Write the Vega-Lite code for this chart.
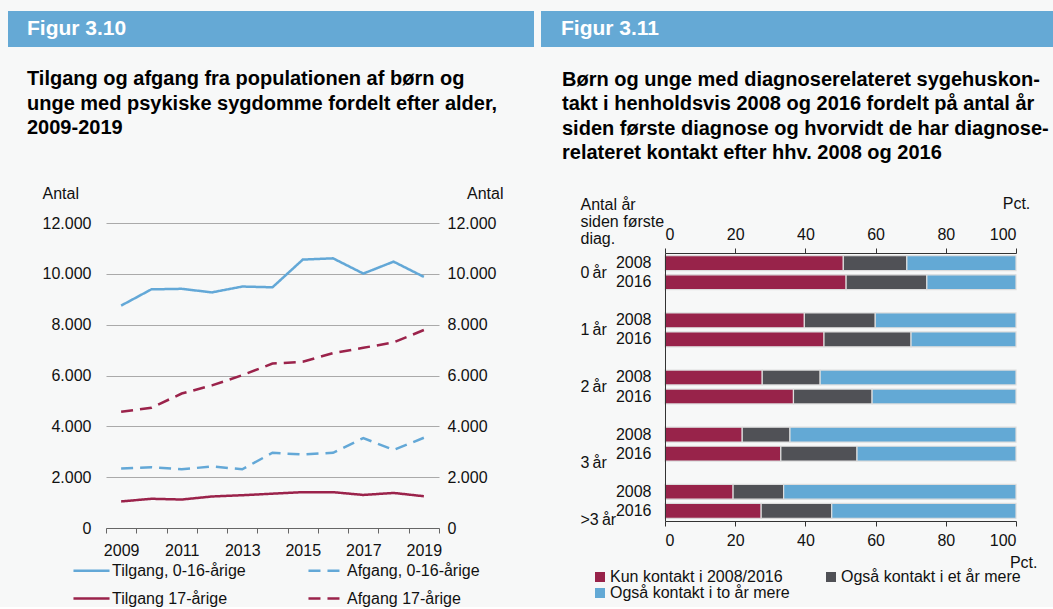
{
  "$schema": "https://vega.github.io/schema/vega-lite/v6.json",
  "background": "#f7f8f8",
  "padding": {"left": 8, "top": 11, "right": 0, "bottom": 0},
  "config": {
    "font": "Liberation Sans",
    "view": {"stroke": null},
    "axis": {"labelFontSize": 16, "labelColor": "#111111", "titleFontSize": 16, "titleFontWeight": "normal", "titleColor": "#111111"},
    "legend": {"labelFontSize": 16, "labelColor": "#111111"},
    "title": {"color": "#000000"}
  },
  "spacing": 7,
  "resolve": {"scale": {"color": "independent", "strokeDash": "independent"}, "legend": {"color": "independent", "strokeDash": "independent"}},
  "hconcat": [
    {
      "columns": 3,
      "bounds": "flush",
      "align": "each",
      "spacing": {"row": 176, "column": 0},
      "resolve": {"scale": {"color": "independent", "strokeDash": "independent"}, "legend": {"color": "independent", "strokeDash": "independent"}},
      "concat": [
        {"width": 98, "height": 36, "data": {"values": [{"del": "a"}]}, "mark": {"type": "rect", "color": "#65a9d5"}},
        {
          "width": 333, "height": 36,
          "data": {"values": [{"figur": "Figur 3.10"}]},
          "layer": [
            {"mark": {"type": "rect", "color": "#65a9d5"}},
            {"mark": {"type": "text", "align": "left", "baseline": "middle", "dx": -245.5, "color": "#ffffff", "fontSize": 21, "fontWeight": "bold"}, "encoding": {"text": {"field": "figur"}}}
          ]
        },
        {"width": 95, "height": 36, "data": {"values": [{"del": "c"}]}, "mark": {"type": "rect", "color": "#65a9d5"}},
        {"width": 98, "height": 1, "data": {"values": []}, "mark": "rect"},
        {
          "width": 333, "height": 305,
          "title": {"text": ["Tilgang og afgang fra populationen af børn og", "unge med psykiske sygdomme fordelt efter alder,", "2009-2019"], "anchor": "start", "frame": "group", "dx": -79, "offset": 47, "fontSize": 20, "fontWeight": "bold", "lineHeight": 24.5},
          "data": {"values": [
            {"aar": 2009, "serie": "Tilgang, 0-16-årige", "antal": 8750},
            {"aar": 2010, "serie": "Tilgang, 0-16-årige", "antal": 9390},
            {"aar": 2011, "serie": "Tilgang, 0-16-årige", "antal": 9410},
            {"aar": 2012, "serie": "Tilgang, 0-16-årige", "antal": 9270},
            {"aar": 2013, "serie": "Tilgang, 0-16-årige", "antal": 9500},
            {"aar": 2014, "serie": "Tilgang, 0-16-årige", "antal": 9470},
            {"aar": 2015, "serie": "Tilgang, 0-16-årige", "antal": 10560},
            {"aar": 2016, "serie": "Tilgang, 0-16-årige", "antal": 10610},
            {"aar": 2017, "serie": "Tilgang, 0-16-årige", "antal": 10010},
            {"aar": 2018, "serie": "Tilgang, 0-16-årige", "antal": 10480},
            {"aar": 2019, "serie": "Tilgang, 0-16-årige", "antal": 9880},
            {"aar": 2009, "serie": "Afgang, 0-16-årige", "antal": 2340},
            {"aar": 2010, "serie": "Afgang, 0-16-årige", "antal": 2390},
            {"aar": 2011, "serie": "Afgang, 0-16-årige", "antal": 2310},
            {"aar": 2012, "serie": "Afgang, 0-16-årige", "antal": 2420},
            {"aar": 2013, "serie": "Afgang, 0-16-årige", "antal": 2310},
            {"aar": 2014, "serie": "Afgang, 0-16-årige", "antal": 2960},
            {"aar": 2015, "serie": "Afgang, 0-16-årige", "antal": 2890},
            {"aar": 2016, "serie": "Afgang, 0-16-årige", "antal": 2960},
            {"aar": 2017, "serie": "Afgang, 0-16-årige", "antal": 3540},
            {"aar": 2018, "serie": "Afgang, 0-16-årige", "antal": 3070},
            {"aar": 2019, "serie": "Afgang, 0-16-årige", "antal": 3550},
            {"aar": 2009, "serie": "Tilgang 17-årige", "antal": 1045},
            {"aar": 2010, "serie": "Tilgang 17-årige", "antal": 1150},
            {"aar": 2011, "serie": "Tilgang 17-årige", "antal": 1120},
            {"aar": 2012, "serie": "Tilgang 17-årige", "antal": 1240},
            {"aar": 2013, "serie": "Tilgang 17-årige", "antal": 1290},
            {"aar": 2014, "serie": "Tilgang 17-årige", "antal": 1350},
            {"aar": 2015, "serie": "Tilgang 17-årige", "antal": 1410},
            {"aar": 2016, "serie": "Tilgang 17-årige", "antal": 1410},
            {"aar": 2017, "serie": "Tilgang 17-årige", "antal": 1300},
            {"aar": 2018, "serie": "Tilgang 17-årige", "antal": 1380},
            {"aar": 2019, "serie": "Tilgang 17-årige", "antal": 1250},
            {"aar": 2009, "serie": "Afgang 17-årige", "antal": 4570},
            {"aar": 2010, "serie": "Afgang 17-årige", "antal": 4730},
            {"aar": 2011, "serie": "Afgang 17-årige", "antal": 5290},
            {"aar": 2012, "serie": "Afgang 17-årige", "antal": 5610},
            {"aar": 2013, "serie": "Afgang 17-årige", "antal": 6010},
            {"aar": 2014, "serie": "Afgang 17-årige", "antal": 6470},
            {"aar": 2015, "serie": "Afgang 17-årige", "antal": 6540},
            {"aar": 2016, "serie": "Afgang 17-årige", "antal": 6880},
            {"aar": 2017, "serie": "Afgang 17-årige", "antal": 7090},
            {"aar": 2018, "serie": "Afgang 17-årige", "antal": 7300},
            {"aar": 2019, "serie": "Afgang 17-årige", "antal": 7790}
          ]},
          "encoding": {
            "x": {"field": "aar", "type": "ordinal", "scale": {"type": "band", "paddingInner": 0, "paddingOuter": 0},
              "axis": {"title": null, "labelAngle": 0, "labelOverlap": false, "labelExpr": "datum.value % 2 == 1 ? datum.label : ''", "tickBand": "extent", "tickSize": 5, "tickColor": "#666666", "domainColor": "#666666", "labelPadding": 9, "grid": false}}
          },
          "layer": [
            {
              "mark": {"type": "line", "strokeWidth": 2.5},
              "encoding": {
                "y": {"field": "antal", "type": "quantitative", "scale": {"domain": [0, 12000]},
                  "axis": {"orient": "left", "values": [0, 2000, 4000, 6000, 8000, 10000, 12000], "labelExpr": "replace(format(datum.value, ','), ',', '.')", "grid": true, "gridColor": "#aaaaaa", "domain": false, "ticks": false, "labelPadding": 15, "title": "Antal", "titleAngle": 0, "titleAlign": "left", "titleBaseline": "middle", "titleX": -64, "titleY": -30}},
                "color": {"field": "serie", "type": "nominal",
                  "scale": {"domain": ["Tilgang, 0-16-årige", "Afgang, 0-16-årige", "Tilgang 17-årige", "Afgang 17-årige"], "range": ["#63a8d7", "#63a8d7", "#9b234b", "#9b234b"]},
                  "legend": {"orient": "none", "legendX": -34, "legendY": 328, "columns": 2, "direction": "horizontal", "title": null, "symbolType": "stroke", "symbolSize": 1300, "symbolStrokeWidth": 2.5, "labelOffset": 1, "columnPadding": 57, "rowPadding": -7, "labelLimit": 300}},
                "strokeDash": {"field": "serie", "type": "nominal",
                  "scale": {"domain": ["Tilgang, 0-16-årige", "Afgang, 0-16-årige", "Tilgang 17-årige", "Afgang 17-årige"], "range": [[1, 0], [12, 7], [1, 0], [12, 7]]},
                  "legend": {"orient": "none", "legendX": -34, "legendY": 328, "columns": 2, "direction": "horizontal", "title": null, "symbolType": "stroke", "symbolSize": 1300, "symbolStrokeWidth": 2.5, "labelOffset": 1, "columnPadding": 57, "rowPadding": -7, "labelLimit": 300}}
              }
            },
            {
              "mark": {"type": "line", "opacity": 0},
              "encoding": {
                "y": {"field": "antal", "type": "quantitative", "scale": {"domain": [0, 12000]},
                  "axis": {"orient": "right", "values": [0, 2000, 4000, 6000, 8000, 10000, 12000], "labelExpr": "replace(format(datum.value, ','), ',', '.')", "grid": false, "domain": false, "ticks": false, "labelPadding": 8, "labelAlign": "left", "title": "Antal", "titleAngle": 0, "titleAlign": "right", "titleBaseline": "middle", "titleX": 64, "titleY": -30}},
                "detail": {"field": "serie"}
              }
            }
          ],
          "resolve": {"axis": {"y": "independent"}}
        }
      ]
    },
    {
      "columns": 3,
      "bounds": "flush",
      "align": "each",
      "spacing": {"row": 206, "column": 0},
      "resolve": {"scale": {"color": "independent"}, "legend": {"color": "independent"}},
      "concat": [
        {
          "width": 124, "height": 36,
          "data": {"values": [{"figur": "Figur 3.11"}]},
          "layer": [
            {"mark": {"type": "rect", "color": "#65a9d5"}},
            {"mark": {"type": "text", "align": "left", "baseline": "middle", "dx": -42, "color": "#ffffff", "fontSize": 21, "fontWeight": "bold"}, "encoding": {"text": {"field": "figur"}}}
          ]
        },
        {"width": 351, "height": 36, "data": {"values": [{"del": "e"}]}, "mark": {"type": "rect", "color": "#65a9d5"}},
        {"width": 37, "height": 36, "data": {"values": [{"del": "f"}]}, "mark": {"type": "rect", "color": "#65a9d5"}},
        {"width": 124, "height": 1, "data": {"values": []}, "mark": "rect"},
        {
          "width": 351, "height": 268,
          "title": {"text": ["Børn og unge med diagnoserelateret sygehuskon-", "takt i henholdsvis 2008 og 2016 fordelt på antal år", "siden første diagnose og hvorvidt de har diagnose-", "relateret kontakt efter hhv. 2008 og 2016"], "anchor": "start", "frame": "group", "dx": -103, "offset": 32, "fontSize": 20, "fontWeight": "bold", "lineHeight": 24.5},
          "data": {"values": [
            {"slot": "0\u2009år|2008", "kat": "Kun kontakt i 2008/2016", "pct": 50.8},
            {"slot": "0\u2009år|2008", "kat": "Også kontakt i et år mere", "pct": 18.1},
            {"slot": "0\u2009år|2008", "kat": "Også kontakt i to år mere", "pct": 31.1},
            {"slot": "0\u2009år|2016", "kat": "Kun kontakt i 2008/2016", "pct": 51.6},
            {"slot": "0\u2009år|2016", "kat": "Også kontakt i et år mere", "pct": 23.0},
            {"slot": "0\u2009år|2016", "kat": "Også kontakt i to år mere", "pct": 25.4},
            {"slot": "1\u2009år|2008", "kat": "Kun kontakt i 2008/2016", "pct": 39.7},
            {"slot": "1\u2009år|2008", "kat": "Også kontakt i et år mere", "pct": 20.2},
            {"slot": "1\u2009år|2008", "kat": "Også kontakt i to år mere", "pct": 40.1},
            {"slot": "1\u2009år|2016", "kat": "Kun kontakt i 2008/2016", "pct": 45.3},
            {"slot": "1\u2009år|2016", "kat": "Også kontakt i et år mere", "pct": 24.8},
            {"slot": "1\u2009år|2016", "kat": "Også kontakt i to år mere", "pct": 29.9},
            {"slot": "2\u2009år|2008", "kat": "Kun kontakt i 2008/2016", "pct": 27.7},
            {"slot": "2\u2009år|2008", "kat": "Også kontakt i et år mere", "pct": 16.5},
            {"slot": "2\u2009år|2008", "kat": "Også kontakt i to år mere", "pct": 55.8},
            {"slot": "2\u2009år|2016", "kat": "Kun kontakt i 2008/2016", "pct": 36.6},
            {"slot": "2\u2009år|2016", "kat": "Også kontakt i et år mere", "pct": 22.4},
            {"slot": "2\u2009år|2016", "kat": "Også kontakt i to år mere", "pct": 41.0},
            {"slot": "3\u2009år|2008", "kat": "Kun kontakt i 2008/2016", "pct": 22.0},
            {"slot": "3\u2009år|2008", "kat": "Også kontakt i et år mere", "pct": 13.6},
            {"slot": "3\u2009år|2008", "kat": "Også kontakt i to år mere", "pct": 64.4},
            {"slot": "3\u2009år|2016", "kat": "Kun kontakt i 2008/2016", "pct": 33.0},
            {"slot": "3\u2009år|2016", "kat": "Også kontakt i et år mere", "pct": 21.7},
            {"slot": "3\u2009år|2016", "kat": "Også kontakt i to år mere", "pct": 45.3},
            {"slot": ">3\u2009år|2008", "kat": "Kun kontakt i 2008/2016", "pct": 19.4},
            {"slot": ">3\u2009år|2008", "kat": "Også kontakt i et år mere", "pct": 14.4},
            {"slot": ">3\u2009år|2008", "kat": "Også kontakt i to år mere", "pct": 66.2},
            {"slot": ">3\u2009år|2016", "kat": "Kun kontakt i 2008/2016", "pct": 27.4},
            {"slot": ">3\u2009år|2016", "kat": "Også kontakt i et år mere", "pct": 20.1},
            {"slot": ">3\u2009år|2016", "kat": "Også kontakt i to år mere", "pct": 52.5}
          ]},
          "layer": [
            {
              "mark": {"type": "bar", "stroke": "#dddddd", "strokeWidth": 1.2},
              "encoding": {
                "x": {"field": "pct", "type": "quantitative", "stack": "zero", "scale": {"domain": [0, 100]},
                  "axis": {"orient": "top", "values": [0, 20, 40, 60, 80, 100], "grid": false, "domainColor": "#333333", "tickColor": "#333333", "tickSize": 5, "labelPadding": 6, "zindex": 1, "title": "Pct.", "titleX": 351, "titleY": -50, "titleAlign": "center", "titleBaseline": "middle"}},
                "y": {"field": "slot", "type": "nominal",
                  "scale": {"domain": ["0\u2009år|2008", "0\u2009år|2016", "gap1", "1\u2009år|2008", "1\u2009år|2016", "gap2", "2\u2009år|2008", "2\u2009år|2016", "gap3", "3\u2009år|2008", "3\u2009år|2016", "gap4", ">3\u2009år|2008", ">3\u2009år|2016"], "paddingInner": 0.22, "paddingOuter": 0.145},
                  "axis": {"orient": "left", "title": null, "ticks": false, "labelPadding": 14, "labelExpr": "indexof(datum.value, '|') > 0 ? split(datum.value, '|')[1] : ''", "domainColor": "#333333", "zindex": 1}},
                "color": {"field": "kat", "type": "nominal",
                  "scale": {"domain": ["Kun kontakt i 2008/2016", "Også kontakt i et år mere", "Også kontakt i to år mere"], "range": ["#98234a", "#505156", "#63a9d5"]},
                  "legend": {"orient": "none", "legendX": -73, "legendY": 316, "columns": 2, "direction": "horizontal", "title": null, "symbolType": "square", "symbolSize": 100, "symbolStrokeWidth": 0, "labelOffset": 2, "columnPadding": 33, "rowPadding": 0, "labelLimit": 300}}
              }
            },
            {
              "mark": {"type": "bar", "opacity": 0},
              "encoding": {
                "x": {"field": "pct", "type": "quantitative", "stack": "zero", "scale": {"domain": [0, 100]},
                  "axis": {"orient": "bottom", "values": [0, 20, 40, 60, 80, 100], "grid": false, "domainColor": "#333333", "tickColor": "#333333", "tickSize": 5, "labelPadding": 6, "zindex": 1, "title": "Pct.", "titleX": 372, "titleY": 41, "titleAlign": "right", "titleBaseline": "middle"}},
                "y": {"field": "slot", "type": "nominal",
                  "scale": {"domain": ["0\u2009år|2008", "0\u2009år|2016", "gap1", "1\u2009år|2008", "1\u2009år|2016", "gap2", "2\u2009år|2008", "2\u2009år|2016", "gap3", "3\u2009år|2008", "3\u2009år|2016", "gap4", ">3\u2009år|2008", ">3\u2009år|2016"], "paddingInner": 0.22, "paddingOuter": 0.145},
                  "axis": {"orient": "left", "domain": false, "ticks": false, "labelOffset": 9.5, "labelAlign": "left", "labelBaseline": "middle", "labelPadding": 85, "labelExpr": "indexof(['0\u2009år|2008', '1\u2009år|2008', '2\u2009år|2008', '3\u2009år|2016', '>3\u2009år|2016'], datum.value) >= 0 ? split(datum.value, '|')[0] : ''", "title": ["Antal år", "siden første", "diag."], "titleAngle": 0, "titleAlign": "left", "titleBaseline": "top", "titleX": -85, "titleY": -57, "titleLineHeight": 17}},
                "detail": {"field": "kat"}
              }
            }
          ],
          "resolve": {"axis": {"x": "independent", "y": "independent"}}
        }
      ]
    }
  ]
}
